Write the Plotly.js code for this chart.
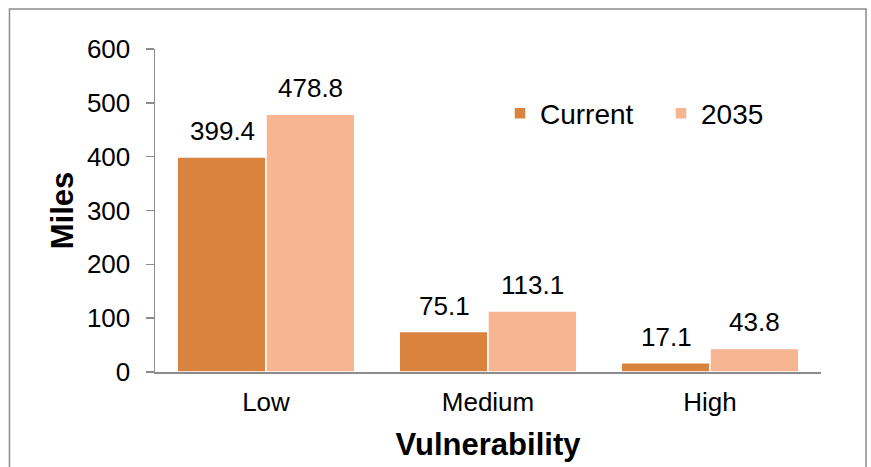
<!DOCTYPE html>
<html>
<head>
<meta charset="utf-8">
<script src="https://cdn.plot.ly/plotly-3.0.1.min.js"></script>
<style>html,body{margin:0;padding:0;background:#fff;}#chart{width:871px;height:467px;}</style>
</head>
<body>
<div id="chart"></div>
<script>
const categories = ["Low", "Medium", "High"];
const currentValues = [399.4, 75.1, 17.1];
const futureValues = [478.8, 113.1, 43.8];
const seriesNames = ["Current", "2035"];
const yTicks = [0, 100, 200, 300, 400, 500, 600];

const FONT = "Liberation Sans, Arial, sans-serif";
const c1 = "#DA833F", c2 = "#F8B592";

const traces = [
  {type: "bar", name: seriesNames[0], x: categories, y: currentValues,
   marker: {color: c1, line: {color: "#ffffff", width: 1.5}}, hoverinfo: "none"},
  {type: "bar", name: seriesNames[1], x: categories, y: futureValues,
   marker: {color: c2, line: {color: "#ffffff", width: 1.5}}, hoverinfo: "none"}
];

const annotations = [];
categories.forEach((c, i) => {
  annotations.push({x: c, y: currentValues[i], xref: "x", yref: "y", text: currentValues[i].toFixed(1),
    showarrow: false, xshift: -44, yshift: 9, yanchor: "bottom", font: {family: FONT, size: 26, color: "#000"}});
  annotations.push({x: c, y: futureValues[i], xref: "x", yref: "y", text: futureValues[i].toFixed(1),
    showarrow: false, xshift: 44, yshift: 9, yanchor: "bottom", font: {family: FONT, size: 26, color: "#000"}});
});

const layout = {
  width: 871, height: 467,
  margin: {l: 155, r: 50, t: 49, b: 95},
  paper_bgcolor: "#fff", plot_bgcolor: "#fff",
  font: {family: FONT, size: 26, color: "#000"},
  barmode: "group", bargap: 0.2, bargroupgap: 0,
  showlegend: true,
  legend: {orientation: "h", x: 0.518, y: 0.8, xanchor: "left", yanchor: "middle",
    font: {family: FONT, size: 28, color: "#000"}, bgcolor: "rgba(0,0,0,0)", itemwidth: 30,
    entrywidth: 116, entrywidthmode: "pixels"},
  xaxis: {
    showline: true, linecolor: "#8c8c8c", linewidth: 1.5, ticks: "", showgrid: false,
    tickfont: {family: FONT, size: 26, color: "#000"}, ticklabelstandoff: 6,
    title: {text: "Vulnerability", font: {family: FONT, size: 31, color: "#000", weight: "bold"}, standoff: 17}
  },
  yaxis: {
    range: [0, 600], tickvals: yTicks, ticktext: yTicks.map(String),
    showline: true, linecolor: "#8c8c8c", linewidth: 1.5, ticks: "outside", ticklen: 8, tickcolor: "#8c8c8c", tickwidth: 1.5,
    showgrid: false, zeroline: false, ticklabelstandoff: 10,
    tickfont: {family: FONT, size: 26, color: "#000"},
    title: {text: "Miles", font: {family: FONT, size: 31, color: "#000", weight: "bold"}, standoff: 4}
  },
  annotations: annotations,
  shapes: [{type: "rect", xref: "paper", yref: "paper", x0: -0.2185, x1: 1.0676, y0: -0.5, y1: 1.1238,
    line: {color: "#8c8c8c", width: 1.5}, fillcolor: "rgba(0,0,0,0)", layer: "below"}]
};

Plotly.newPlot("chart", traces, layout, {displayModeBar: false, staticPlot: true});
</script>
</body>
</html>
